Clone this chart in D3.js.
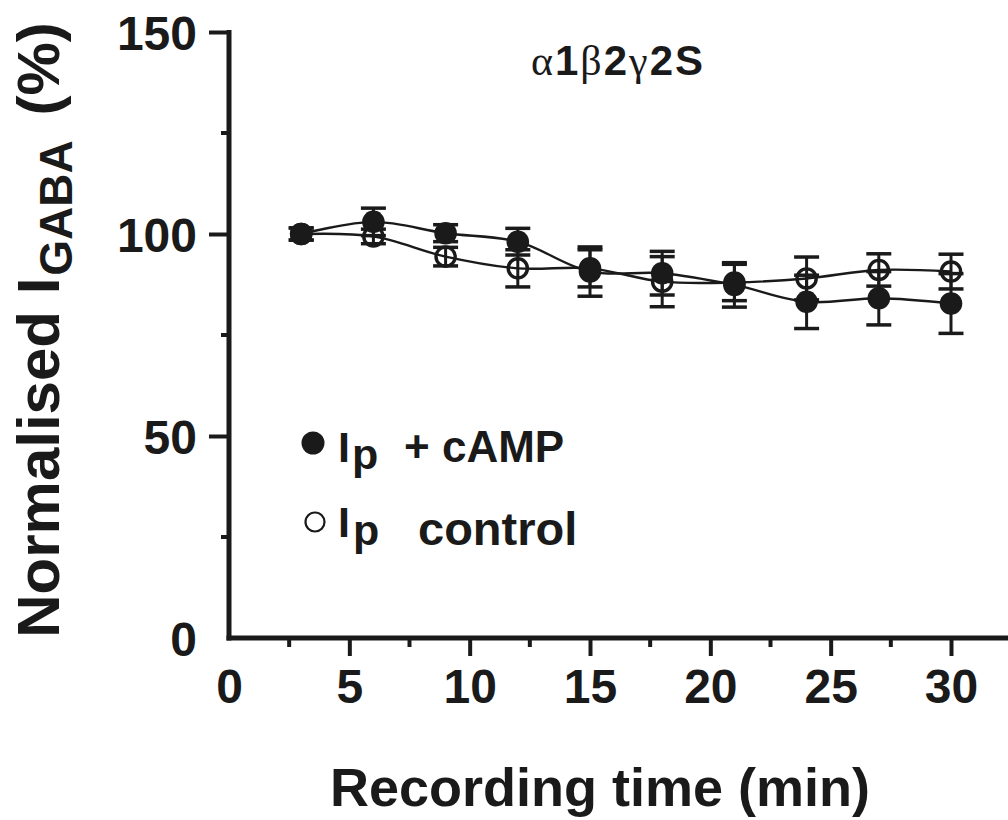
<!DOCTYPE html>
<html>
<head>
<meta charset="utf-8">
<script src="https://cdn.jsdelivr.net/npm/d3@7"></script>
<style>
  html, body { margin: 0; padding: 0; background: #fff; }
  svg { display: block; }
  text { font-family: "Liberation Sans", Arial, sans-serif; font-weight: bold; fill: #1a1a1a; }
</style>
</head>
<body>
<svg id="chart" width="1008" height="820"></svg>
<script>
// Recording times (min) and normalised GABA currents (%)
const times = [3, 6, 9, 12, 15, 18, 21, 24, 27, 30];
const campMean = [100, 103, 100.2, 98.1, 90.7, 90.3, 87.4, 83.2, 84.1, 82.8];
const campErr = [1.5, 3.4, 2.1, 3.3, 6.1, 5.4, 5.5, 6.6, 6.6, 7.4];
const controlMean = [100, 99.4, 94.4, 91.5, 91.5, 88.2, 88.0, 89.0, 91.1, 90.7];
const controlErr = [1.5, 1.8, 2.3, 4.6, 4.6, 6.2, 4.5, 5.3, 4.0, 4.3];

const xTicks = [0, 5, 10, 15, 20, 25, 30];
const xMinorTicks = [2.5, 7.5, 12.5, 17.5, 22.5, 27.5];
const yTicks = [0, 50, 100, 150];
const yMinorTicks = [25, 75, 125];

const ink = "#1a1a1a";
const svg = d3.select("#chart");

const x = d3.scaleLinear().domain([0, 30]).range([229, 951]);
const y = d3.scaleLinear().domain([0, 150]).range([638, 32]);
const xEnd = x.invert(1008);

// Axes
const gx = svg.append("g").attr("transform", `translate(0,${y(0)})`);
gx.call(d3.axisBottom(x).tickValues(xTicks).tickSize(18).tickPadding(12).tickFormat(d3.format("d")));
gx.select(".domain").remove();
gx.selectAll(".tick line").attr("stroke", ink).attr("stroke-width", 4)
  .attr("opacity", d => d === 0 ? 0 : 1);
gx.selectAll(".tick text").attr("font-size", 48).attr("fill", ink)
  .attr("font-family", "Liberation Sans, Arial, sans-serif").attr("font-weight", "bold")
  .attr("dy", "0.72em");
gx.append("g").selectAll("line").data(xMinorTicks).join("line")
  .attr("x1", d => x(d)).attr("x2", d => x(d)).attr("y1", 0).attr("y2", 9)
  .attr("stroke", ink).attr("stroke-width", 4);
gx.append("line").attr("x1", x(0) - 2.5).attr("x2", x(xEnd)).attr("y1", 0).attr("y2", 0)
  .attr("stroke", ink).attr("stroke-width", 5);

const gy = svg.append("g").attr("transform", `translate(${x(0)},0)`);
gy.call(d3.axisLeft(y).tickValues(yTicks).tickSize(20).tickPadding(12).tickFormat(d3.format("d")));
gy.select(".domain").remove();
gy.selectAll(".tick line").attr("stroke", ink).attr("stroke-width", 4)
  .attr("opacity", d => d === 0 ? 0 : 1);
gy.selectAll(".tick text").attr("font-size", 48).attr("fill", ink)
  .attr("font-family", "Liberation Sans, Arial, sans-serif").attr("font-weight", "bold")
  .attr("dy", "0.36em");
gy.append("g").selectAll("line").data(yMinorTicks).join("line")
  .attr("x1", 0).attr("x2", -8).attr("y1", d => y(d)).attr("y2", d => y(d))
  .attr("stroke", ink).attr("stroke-width", 4);
gy.append("line").attr("x1", 0).attr("x2", 0).attr("y1", y(150) - 2).attr("y2", y(0) + 2.5)
  .attr("stroke", ink).attr("stroke-width", 5);

// Series
const series = [
  { mean: campMean, err: campErr, filled: true },
  { mean: controlMean, err: controlErr, filled: false }
];

const line = d3.line()
  .x(d => x(d.t)).y(d => y(d.v))
  .curve(d3.curveCatmullRom.alpha(0.5));

series.forEach(s => {
  const pts = times.map((t, i) => ({ t, v: s.mean[i], e: s.err[i] }));
  svg.append("path").datum(pts)
    .attr("d", line).attr("fill", "none")
    .attr("stroke", ink).attr("stroke-width", 2.4);
  s.pts = pts;
});

series.forEach(s => {
  const g = svg.append("g");
  const bars = g.selectAll("g").data(s.pts).join("g");
  bars.append("line")
    .attr("x1", d => x(d.t)).attr("x2", d => x(d.t))
    .attr("y1", d => y(d.v + d.e)).attr("y2", d => y(d.v - d.e))
    .attr("stroke", ink).attr("stroke-width", 3);
  [1, -1].forEach(sgn => {
    bars.append("line")
      .attr("x1", d => x(d.t) - 12.5).attr("x2", d => x(d.t) + 12.5)
      .attr("y1", d => y(d.v + sgn * d.e)).attr("y2", d => y(d.v + sgn * d.e))
      .attr("stroke", ink).attr("stroke-width", 3.5);
  });
});

// Markers: open circles first, filled on top
svg.append("g").selectAll("circle").data(series[1].pts).join("circle")
  .attr("cx", d => x(d.t)).attr("cy", d => y(d.v)).attr("r", 9.6)
  .attr("fill", "none").attr("stroke", ink).attr("stroke-width", 3.4);
svg.append("g").selectAll("circle").data(series[0].pts).join("circle")
  .attr("cx", d => x(d.t)).attr("cy", d => y(d.v)).attr("r", 11.3)
  .attr("fill", ink);

// Title
const title = svg.append("text").attr("x", 618).attr("y", 75)
  .attr("text-anchor", "middle").attr("font-size", 42).attr("letter-spacing", 2);
[["α", true], ["1", false], ["β", true], ["2", false], ["γ", true], ["2S", false]].forEach(([t, serif]) => {
  title.append("tspan").text(t)
    .attr("font-family", serif ? "Liberation Serif, Times New Roman, serif" : "Liberation Sans, Arial, sans-serif")
    .attr("font-weight", serif ? "normal" : "bold");
});

// Legend
svg.append("circle").attr("cx", 313).attr("cy", 443).attr("r", 11.5).attr("fill", ink);
const l1 = svg.append("text").attr("x", 338).attr("y", 462).attr("font-size", 43);
l1.append("tspan").text("I");
l1.append("tspan").text("p").attr("dy", 7).attr("dx", 2);
l1.append("tspan").text("+ cAMP").attr("x", 404).attr("y", 462).attr("font-size", 44);

svg.append("circle").attr("cx", 315).attr("cy", 522).attr("r", 9.5)
  .attr("fill", "none").attr("stroke", ink).attr("stroke-width", 2.2);
const l2 = svg.append("text").attr("x", 338).attr("y", 537).attr("font-size", 43);
l2.append("tspan").text("I");
l2.append("tspan").text("p").attr("dy", 8).attr("dx", 3);
l2.append("tspan").text("control").attr("x", 418).attr("y", 545).attr("font-size", 47);

// Axis titles
svg.append("text").attr("x", 600).attr("y", 806)
  .attr("text-anchor", "middle").attr("font-size", 54)
  .text("Recording time (min)");

const yl = svg.append("text")
  .attr("transform", "translate(59,330) rotate(-90)")
  .attr("text-anchor", "middle").attr("font-size", 60);
yl.append("tspan").text("Normalised I");
yl.append("tspan").text("GABA").attr("font-size", 46).attr("dy", 13).attr("dx", 2);
yl.append("tspan").text(" (%)").attr("dy", -13).attr("dx", 8);
</script>
</body>
</html>
